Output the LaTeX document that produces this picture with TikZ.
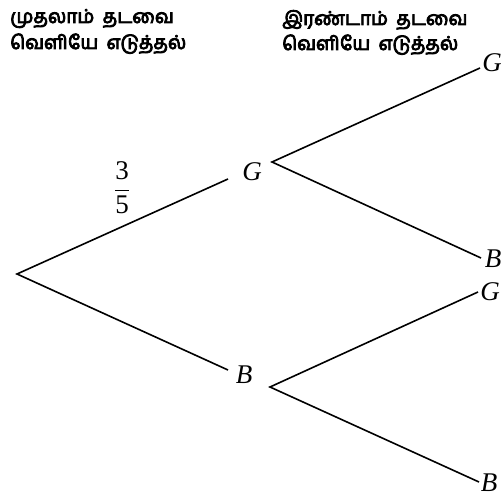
\documentclass[tikz,border=0pt]{standalone}
\usepackage{amsmath}
\usepackage{fontspec}
\setmainfont{Liberation Serif}
\newfontfamily\tamil[Script=Tamil,FakeBold=4.5,WordSpace=1.8]{Hind Madurai}
\begin{document}
\begin{tikzpicture}[x=1pt,y=-1pt,
  branch/.style={line width=1.6pt, line join=miter},
  leaf/.style={inner sep=0pt, font=\fontsize{27}{27}\selectfont\itshape},
  tam/.style={inner sep=0pt, anchor=base west, font=\tamil\fontsize{19}{19}\selectfont}]
\useasboundingbox (0,0) rectangle (501,497);
% header texts
\node[tam] (h1a) at (10,23) {முதலாம் தடவை};
\node[tam] (h1b) at (10,49) {வெளியே எடுத்தல்};
\node[tam] (h2a) at (282,25) {இரண்டாம் தடவை};
\node[tam] (h2b) at (282,50) {வெளியே எடுத்தல்};
% labels
\node[leaf] (G1) at (252,172) {G};
\node[leaf] (B1) at (244,375) {B};
\node[leaf] (GG) at (492,63) {G};
\node[leaf] (GB) at (493,259) {B};
\node[leaf] (BG) at (490,292) {G};
\node[leaf] (BB) at (489,483) {B};
\node[inner sep=0pt, font=\fontsize{27}{27}\selectfont] (frac) at (122,188)
  {$\genfrac{}{}{0.7pt}{0}{\hbox{3}}{\hbox{5}}$};
% connector end points
\coordinate (root) at (17,274);
\coordinate (G1in) at (228,179);
\coordinate (G1out) at (272,162);
\coordinate (B1in) at (228,370);
\coordinate (B1out) at (270,387);
\coordinate (GGin) at (480,68);
\coordinate (GBin) at (481,258);
\coordinate (BGin) at (478,292);
\coordinate (BBin) at (479,482);
% branches
\draw[branch] (G1in) -- (root) -- (B1in);
\draw[branch] (GGin) -- (G1out) -- (GBin);
\draw[branch] (BGin) -- (B1out) -- (BBin);
\end{tikzpicture}
\end{document}
